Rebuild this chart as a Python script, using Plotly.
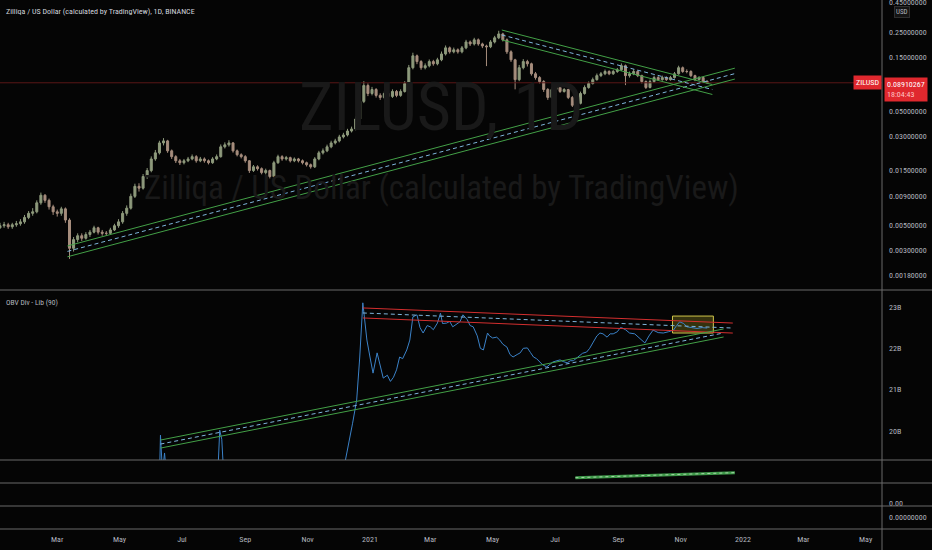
import math
import pandas as pd
import plotly.graph_objects as go

# ---- data ----
start_date = "2020-01-05"          # first daily bucket on the chart
candle_days = 4                    # candles drawn as 4-day buckets
first_open = 0.0047
closes = [
    0.0049, 0.0050, 0.0048, 0.0050, 0.0051, 0.0053, 0.0058, 0.0063, 0.0065, 0.0078,
    0.0091, 0.0082, 0.0072, 0.0065, 0.0063, 0.0069, 0.0055, 0.0031, 0.0037, 0.0040,
    0.0038, 0.0041, 0.0043, 0.0047, 0.0043, 0.0042, 0.0042, 0.0045, 0.0049, 0.0053,
    0.0063, 0.0070, 0.0089, 0.0109, 0.0105, 0.0133, 0.0150, 0.0190, 0.0215, 0.0263,
    0.0274, 0.0224, 0.0199, 0.0183, 0.0176, 0.0183, 0.0190, 0.0199, 0.0183, 0.0190,
    0.0183, 0.0176, 0.0190, 0.0199, 0.0243, 0.0253, 0.0263, 0.0224, 0.0207, 0.0199,
    0.0183, 0.0150, 0.0162, 0.0156, 0.0144, 0.0150, 0.0133, 0.0176, 0.0199, 0.0190,
    0.0195, 0.0183, 0.0190, 0.0183, 0.0176, 0.0169, 0.0162, 0.0190, 0.0215, 0.0224,
    0.0243, 0.0263, 0.0274, 0.0297, 0.0309, 0.0335, 0.0349, 0.0427, 0.0611, 0.0843,
    0.0717, 0.0777, 0.0690, 0.0662, 0.0717, 0.0676, 0.0747, 0.0690, 0.0747, 0.0877,
    0.1210, 0.1540, 0.1370, 0.1210, 0.1260, 0.1370, 0.1310, 0.1420, 0.1600, 0.1810,
    0.1670, 0.1740, 0.1670, 0.1810, 0.2040, 0.1960, 0.2130, 0.1960, 0.1880, 0.1850,
    0.2040, 0.2220, 0.2400, 0.2130, 0.1670, 0.1420, 0.0950, 0.1210, 0.1370, 0.1310,
    0.1070, 0.0990, 0.0913, 0.0777, 0.0662, 0.0777, 0.0810, 0.0747, 0.0777, 0.0662,
    0.0564, 0.0587, 0.0717, 0.0810, 0.0877, 0.0950, 0.1030, 0.1070, 0.1120, 0.1070,
    0.1120, 0.1160, 0.1260, 0.1030, 0.1070, 0.1120, 0.1030, 0.0913, 0.0810, 0.0913,
    0.0990, 0.0950, 0.0990, 0.0950, 0.0990, 0.1070, 0.1210, 0.1120, 0.1120, 0.1030,
    0.0950, 0.0990, 0.0913, 0.0891,
]
highs = [
    0.0052, 0.0053, 0.0052, 0.0052, 0.0054, 0.0056, 0.0061, 0.0066, 0.0070, 0.0082,
    0.0096, 0.0093, 0.0085, 0.0075, 0.0068, 0.0072, 0.0071, 0.0057, 0.0039, 0.0042,
    0.0042, 0.0043, 0.0045, 0.0049, 0.0048, 0.0045, 0.0044, 0.0047, 0.0051, 0.0056,
    0.0066, 0.0074, 0.0094, 0.0115, 0.0116, 0.0140, 0.0158, 0.0200, 0.0228, 0.0275,
    0.0290, 0.0280, 0.0230, 0.0205, 0.0190, 0.0190, 0.0198, 0.0208, 0.0205, 0.0198,
    0.0196, 0.0188, 0.0197, 0.0208, 0.0255, 0.0266, 0.0278, 0.0268, 0.0230, 0.0213,
    0.0205, 0.0186, 0.0168, 0.0167, 0.0160, 0.0156, 0.0153, 0.0183, 0.0207, 0.0205,
    0.0202, 0.0199, 0.0196, 0.0194, 0.0188, 0.0180, 0.0173, 0.0197, 0.0224, 0.0235,
    0.0254, 0.0275, 0.0286, 0.0310, 0.0323, 0.0350, 0.0366, 0.0450, 0.0650, 0.0920,
    0.0880, 0.0820, 0.0800, 0.0720, 0.0745, 0.0740, 0.0780, 0.0770, 0.0780, 0.0920,
    0.1280, 0.1640, 0.1580, 0.1410, 0.1320, 0.1430, 0.1420, 0.1480, 0.1680, 0.1900,
    0.1860, 0.1820, 0.1790, 0.1880, 0.2130, 0.2100, 0.2220, 0.2190, 0.2010, 0.1930,
    0.2120, 0.2310, 0.2560, 0.2460, 0.2190, 0.1720, 0.1450, 0.1280, 0.1440, 0.1420,
    0.1340, 0.1110, 0.1020, 0.0940, 0.0800, 0.0810, 0.0845, 0.0830, 0.0800, 0.0790,
    0.0680, 0.0610, 0.0745, 0.0845, 0.0915, 0.0990, 0.1075, 0.1110, 0.1165, 0.1150,
    0.1160, 0.1205, 0.1320, 0.1290, 0.1120, 0.1170, 0.1150, 0.1050, 0.0935, 0.0950,
    0.1030, 0.1020, 0.1030, 0.1015, 0.1025, 0.1110, 0.1260, 0.1240, 0.1170, 0.1150,
    0.1050, 0.1020, 0.1010, 0.0935,
]
lows = [
    0.0046, 0.0047, 0.0046, 0.0046, 0.0048, 0.0049, 0.0051, 0.0056, 0.0060, 0.0063,
    0.0075, 0.0078, 0.0068, 0.0061, 0.0059, 0.0060, 0.0052, 0.0025, 0.0029, 0.0035,
    0.0036, 0.0037, 0.0039, 0.0042, 0.0041, 0.0040, 0.0040, 0.0041, 0.0044, 0.0047,
    0.0051, 0.0060, 0.0068, 0.0086, 0.0098, 0.0102, 0.0127, 0.0145, 0.0183, 0.0208,
    0.0250, 0.0215, 0.0190, 0.0175, 0.0168, 0.0170, 0.0178, 0.0185, 0.0176, 0.0178,
    0.0176, 0.0170, 0.0172, 0.0185, 0.0195, 0.0235, 0.0244, 0.0216, 0.0200, 0.0192,
    0.0176, 0.0143, 0.0146, 0.0150, 0.0139, 0.0139, 0.0128, 0.0130, 0.0172, 0.0183,
    0.0184, 0.0177, 0.0178, 0.0177, 0.0170, 0.0163, 0.0156, 0.0158, 0.0185, 0.0208,
    0.0218, 0.0236, 0.0255, 0.0266, 0.0288, 0.0300, 0.0325, 0.0340, 0.0415, 0.0590,
    0.0680, 0.0690, 0.0660, 0.0630, 0.0640, 0.0650, 0.0655, 0.0665, 0.0670, 0.0730,
    0.0850, 0.1170, 0.1300, 0.1160, 0.1170, 0.1220, 0.1260, 0.1270, 0.1380, 0.1550,
    0.1610, 0.1620, 0.1610, 0.1620, 0.1760, 0.1880, 0.1900, 0.1890, 0.1800, 0.1250,
    0.1800, 0.1980, 0.2160, 0.2060, 0.1600, 0.1360, 0.0780, 0.0920, 0.1170, 0.1240,
    0.1030, 0.0950, 0.0880, 0.0740, 0.0630, 0.0645, 0.0760, 0.0725, 0.0730, 0.0640,
    0.0545, 0.0550, 0.0575, 0.0700, 0.0790, 0.0860, 0.0930, 0.1000, 0.1040, 0.1040,
    0.1045, 0.1090, 0.1130, 0.0850, 0.0990, 0.1040, 0.1000, 0.0880, 0.0785, 0.0795,
    0.0890, 0.0925, 0.0930, 0.0925, 0.0930, 0.0970, 0.1050, 0.1090, 0.1080, 0.1000,
    0.0920, 0.0935, 0.0895, 0.0870,
]
last_price = 0.08910267

# OBV indicator (billions), sampled at day offsets from start_date
obv_day = [
    0, 59, 98, 147, 156, 157, 159, 161, 163, 196,
    213, 215, 217, 219, 254, 294, 323, 333, 338, 340,
    345, 349, 352, 355, 357, 359, 362, 365, 369, 372,
    375, 379, 382, 385, 388, 391, 394, 398, 401, 404,
    408, 411, 414, 418, 421, 424, 428, 431, 433, 437,
    440, 443, 447, 450, 453, 457, 460, 463, 467, 470,
    473, 477, 479, 482, 486, 489, 492, 496, 499, 502,
    506, 509, 512, 516, 519, 522, 525, 528, 531, 535,
    538, 541, 545, 548, 551, 555, 558, 561, 565, 568,
    570, 574, 577, 580, 584, 587, 590, 594, 597, 600,
    604, 607, 609, 612, 616, 621, 626, 631, 635, 639,
    644, 649, 654, 659, 662, 665, 669, 672, 677, 682,
    687, 692,
]
obv_val = [
    17.60, 17.90, 18.20, 18.60, 18.80, 19.90, 19.00, 19.47, 18.90, 18.70,
    18.90, 20.02, 19.80, 18.90, 18.60, 18.50, 18.80, 19.10, 19.30, 19.54,
    20.19, 20.75, 21.79, 23.10, 22.61, 22.20, 21.79, 21.40, 21.89, 21.55,
    21.28, 21.35, 21.20, 21.30, 21.48, 21.79, 21.75, 21.96, 22.20, 22.76,
    22.81, 22.50, 22.37, 22.55, 22.52, 22.45, 22.61, 22.85, 22.60, 22.61,
    22.65, 22.52, 22.60, 22.64, 22.81, 22.70, 22.55, 22.52, 22.30, 22.00,
    21.96, 22.37, 22.30, 22.25, 22.27, 22.20, 22.10, 22.03, 21.85, 21.79,
    21.85, 21.89, 22.00, 22.01, 21.90, 21.79, 21.75, 21.67, 21.60, 21.55,
    21.60, 21.67, 21.70, 21.72, 21.68, 21.65, 21.70, 21.70, 21.78, 21.85,
    21.88, 21.91, 22.00, 22.13, 22.30, 22.37, 22.35, 22.27, 22.35, 22.35,
    22.40, 22.50, 22.49, 22.45, 22.37, 22.35, 22.25, 22.13, 22.30, 22.44,
    22.38, 22.37, 22.40, 22.44, 22.55, 22.64, 22.60, 22.52, 22.50, 22.48,
    22.50, 22.49,
]

# trend channels drawn on the chart (start, end)
price_up_dates = ["2020-03-11", "2021-12-24"]
price_up_mid = [0.00291, 0.1073]
price_up_hi = [0.00325, 0.1199]
price_up_lo = [0.00261, 0.0961]
price_dn_dates = ["2021-05-10", "2021-12-02"]
price_dn_mid = [0.2351, 0.0777]
price_dn_hi = [0.2600, 0.0859]
price_dn_lo = [0.2126, 0.0703]
obv_red_dates = ["2020-12-25", "2021-12-22"]
obv_red_mid = [22.855, 22.490]
obv_red_hi = [22.976, 22.611]
obv_red_lo = [22.734, 22.369]
obv_grn_dates = ["2020-06-10", "2021-12-13"]
obv_grn_mid = [19.685, 22.371]
obv_grn_hi = [19.782, 22.468]
obv_grn_lo = [19.588, 22.274]
box_dates = ["2021-10-24", "2021-12-03"]
box_vals = [22.37, 22.78]
pane3_dates = ["2021-07-21", "2021-12-24"]
pane3_vals = [0.23, 0.45]

x_range = ["2020-01-05", "2022-05-17"]
price_range = [0.00133, 0.478]
price_top_tick = 0.45              # sits on the top edge, half cut off
price_ticks = [0.25, 0.15, 0.05, 0.03, 0.015, 0.009, 0.005, 0.003, 0.0018]
obv_range = [19.30, 23.41]
obv_ticks = [20, 21, 22, 23]
month_ticks = ["2020-03-01", "2020-05-01", "2020-07-01", "2020-09-01", "2020-11-01",
               "2021-01-01", "2021-03-01", "2021-05-01", "2021-07-01", "2021-09-01",
               "2021-11-01", "2022-01-01", "2022-03-01", "2022-05-01"]
month_labels = ["Mar", "May", "Jul", "Sep", "Nov", "2021", "Mar", "May", "Jul", "Sep",
                "Nov", "2022", "Mar", "May"]

# ---- styling ----
BG = "#050505"
TXT = "#b2b5be"
SEP = "#6a6a6a"
GREEN = "#43a047"
DASH = "#7fb6dc"
RED = "#d32f2f"
UP = "#8e9a7c"
DN = "#a68d7d"
FONT = "Liberation Sans Narrow, Roboto Condensed, Roboto, sans-serif"

PLOT_H = 529.0
PLOT_W = 882.0


def py(pix):
    # pixel row (from top of the plot area) -> paper fraction
    return (PLOT_H - pix) / PLOT_H


candle_dates = pd.date_range(start_date, periods=len(closes), freq=f"{candle_days}D")
opens = [first_open] + closes[:-1]
obv_dates = pd.to_datetime(start_date) + pd.to_timedelta(obv_day, unit="D")

fig = go.Figure()

fig.add_trace(go.Candlestick(
    x=candle_dates, open=opens, high=highs, low=lows, close=closes,
    increasing=dict(line=dict(color=UP, width=1), fillcolor=UP),
    decreasing=dict(line=dict(color=DN, width=1), fillcolor=DN),
    whiskerwidth=0, hoverinfo="skip", xaxis="x", yaxis="y",
))

# last price line
fig.add_trace(go.Scatter(x=x_range, y=[last_price, last_price], mode="lines",
                         line=dict(color="#5a1717", width=1), xaxis="x", yaxis="y"))


def channel(dates, hi, mid, lo, edge, yaxis, width=1):
    fig.add_trace(go.Scatter(x=dates, y=hi, mode="lines", line=dict(color=edge, width=width),
                             xaxis="x", yaxis=yaxis))
    fig.add_trace(go.Scatter(x=dates, y=lo, mode="lines", line=dict(color=edge, width=width),
                             xaxis="x", yaxis=yaxis))
    fig.add_trace(go.Scatter(x=dates, y=mid, mode="lines",
                             line=dict(color=DASH, width=1, dash="4px,3px"),
                             xaxis="x", yaxis=yaxis))


channel(price_up_dates, price_up_hi, price_up_mid, price_up_lo, GREEN, "y")
channel(price_dn_dates, price_dn_hi, price_dn_mid, price_dn_lo, GREEN, "y")

# OBV pane
fig.add_trace(go.Scatter(x=obv_dates, y=obv_val, mode="lines",
                         line=dict(color="#3b82c8", width=1), xaxis="x", yaxis="y2"))
channel(obv_red_dates, obv_red_hi, obv_red_mid, obv_red_lo, RED, "y2")
channel(obv_grn_dates, obv_grn_hi, obv_grn_mid, obv_grn_lo, GREEN, "y2")

# third pane
fig.add_trace(go.Scatter(x=pane3_dates, y=pane3_vals, mode="lines",
                         line=dict(color="#3f9a4a", width=3), xaxis="x", yaxis="y3"))
fig.add_trace(go.Scatter(x=pane3_dates, y=pane3_vals, mode="lines",
                         line=dict(color="#a5d6a7", width=1, dash="dot"), xaxis="x", yaxis="y3"))

# empty panes 4 and 5 (nothing plotted, only their scales)
fig.add_trace(go.Scatter(x=[], y=[], mode="lines", xaxis="x", yaxis="y4"))
fig.add_trace(go.Scatter(x=[], y=[], mode="lines", xaxis="x", yaxis="y5"))

shapes = [
    dict(type="rect", xref="x", yref="y2", x0=box_dates[0], x1=box_dates[1],
         y0=box_vals[0], y1=box_vals[1], line=dict(color="#cfc54a", width=1),
         fillcolor="rgba(180,170,40,0.28)", layer="below"),
    dict(type="line", xref="paper", yref="paper", x0=1, x1=1, y0=-21 / PLOT_H, y1=1,
         line=dict(color=SEP, width=1)),
]
for row in [290, 460, 483, 506, 529]:
    shapes.append(dict(type="line", xref="paper", yref="paper", x0=0, x1=932 / PLOT_W,
                       y0=py(row), y1=py(row), line=dict(color=SEP, width=1)))


def label(text, xpix, ypix, size, color, xanchor="center", **kw):
    return dict(text=text, xref="paper", yref="paper", x=xpix / PLOT_W, y=py(ypix),
                xanchor=xanchor, yanchor="middle", showarrow=False,
                font=dict(size=size, color=color, family=FONT), **kw)


annotations = [
    label("ZILUSD, 1D", 442, 108, 66, "#191919"),
    label("Zilliqa / US Dollar (calculated by TradingView)", 441, 188, 33, "#191919"),
    label("Zilliqa / US Dollar (calculated by TradingView), 1D, BINANCE", 4, 12, 8,
          "#d1d4dc", xanchor="left"),
    label("OBV Div - Lib (90)", 4, 302, 7.5, TXT, xanchor="left"),
    dict(text=f"{price_top_tick:.8f}", xref="paper", yref="y", x=1,
         y=math.log10(price_top_tick), xanchor="left", yanchor="middle", xshift=5,
         showarrow=False, font=dict(size=8, color=TXT, family=FONT)),
    label("USD", 902, 12, 7, TXT, bgcolor="#141414", bordercolor="#2e2e2e", borderpad=1),
    dict(text="ZILUSD", xref="paper", yref="y", x=1, y=math.log10(last_price), xanchor="right",
         yanchor="middle", showarrow=False, font=dict(size=8, color="white", family=FONT),
         bgcolor="#e0282e", borderpad=2),
    dict(text="0.08910267<br><span style='color:#ffc4c4'>18:04:43</span>", xref="paper",
         yref="y", x=1, y=math.log10(last_price), xanchor="left", yanchor="top", yshift=6,
         xshift=2, align="left", showarrow=False,
         font=dict(size=8, color="white", family=FONT), bgcolor="#e0282e", borderpad=2),
]

axis_common = dict(showgrid=False, zeroline=False, showline=False, ticks="", anchor="x",
                   side="right", tickfont=dict(size=8, color=TXT, family=FONT),
                   ticklabelstandoff=6)

fig.update_layout(
    width=932, height=550,
    margin=dict(l=0, r=50, t=0, b=21),
    paper_bgcolor=BG, plot_bgcolor=BG,
    showlegend=False, hovermode=False,
    font=dict(family=FONT, size=8, color=TXT),
    shapes=shapes, annotations=annotations,
    xaxis=dict(type="date", range=x_range, anchor="free", position=0, tickvals=month_ticks,
               ticktext=month_labels, showgrid=False, zeroline=False, showline=False,
               ticks="", rangeslider=dict(visible=False), ticklabelstandoff=4,
               tickfont=dict(size=8, color=TXT, family=FONT)),
    yaxis=dict(domain=[py(290), 1], type="log",
               range=[math.log10(price_range[0]), math.log10(price_range[1])],
               tickvals=price_ticks, ticktext=[f"{v:.8f}" for v in price_ticks], **axis_common),
    yaxis2=dict(domain=[py(460), py(290)], range=obv_range, tickvals=obv_ticks,
                ticktext=[f"{v}B" for v in obv_ticks], **axis_common),
    yaxis3=dict(domain=[py(483), py(460)], range=[0, 1], showticklabels=False, **axis_common),
    yaxis4=dict(domain=[py(506), py(483)], range=[-0.15, 1], tickvals=[0], ticktext=["0.00"],
                **axis_common),
    yaxis5=dict(domain=[0, py(506)], range=[-1, 1], tickvals=[0], ticktext=["0.00000000"],
                **axis_common),
)

fig.write_html("out.html", config={"displayModeBar": False},
               post_script="document.body.style.margin='0';")
